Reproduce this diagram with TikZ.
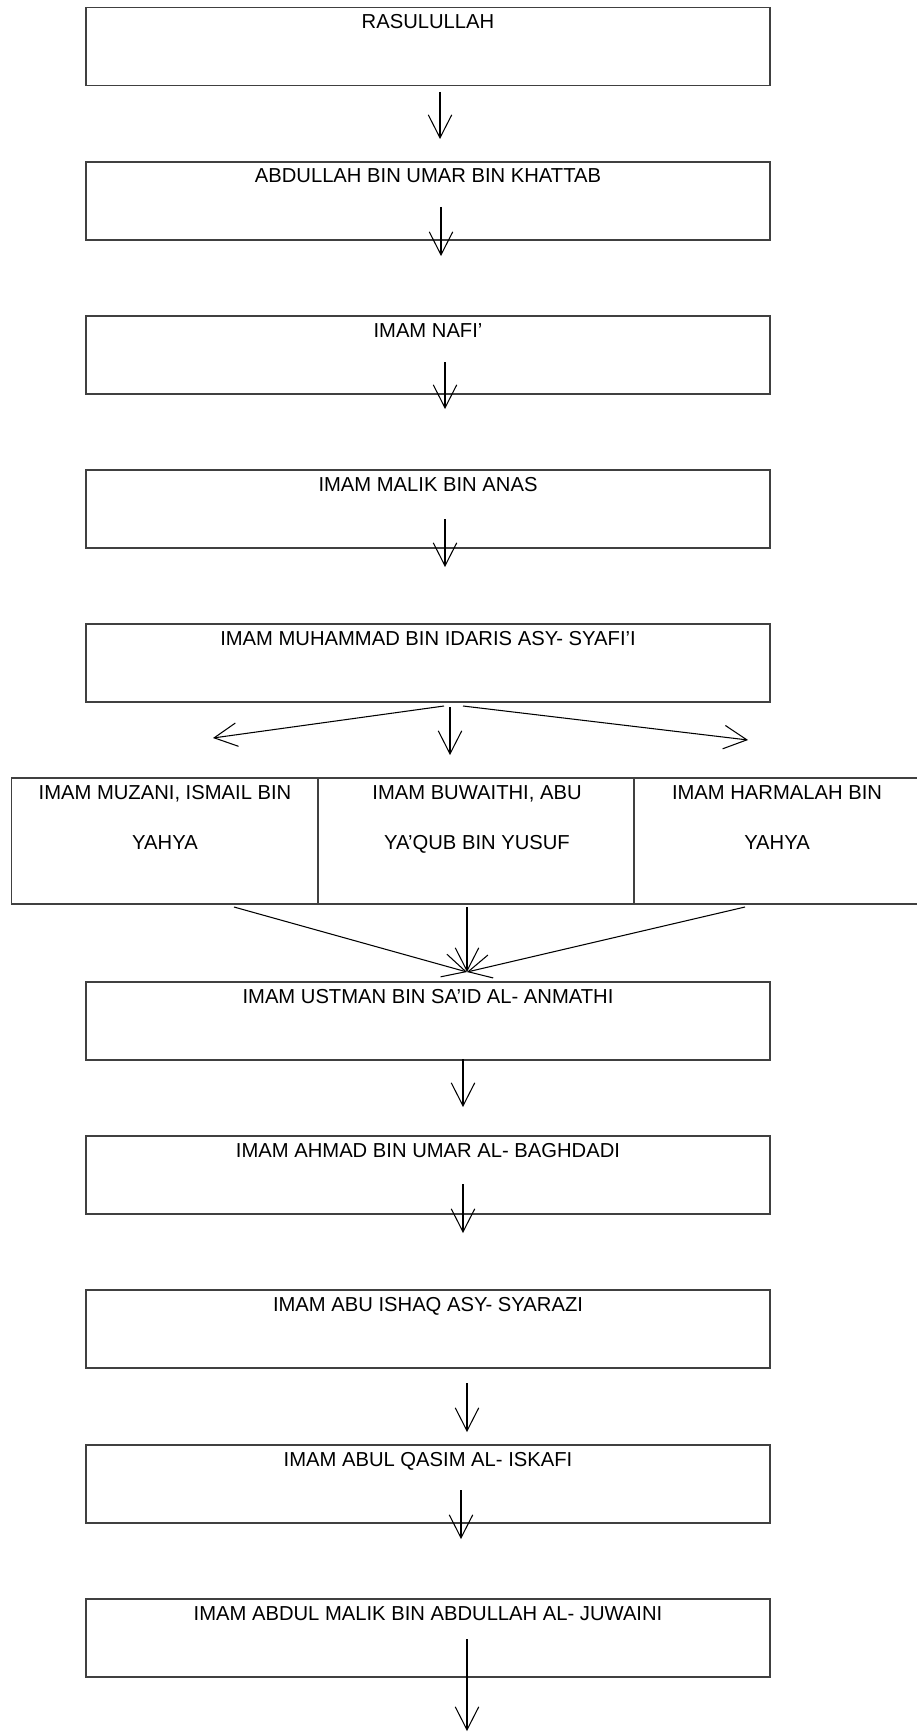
\documentclass[tikz,border=0pt]{standalone}
\usepackage{fontspec}
\setmainfont{Liberation Sans}
\usetikzlibrary{arrows.meta}

\begin{document}
\begin{tikzpicture}[x=0.2mm,y=-0.2mm,
    box/.style={draw=black!75,line width=0.9pt,minimum width=136.8mm,minimum height=15.6mm,inner sep=0pt},
    cell/.style={draw=black!75,line width=0.9pt,minimum height=25.2mm,inner sep=0pt},
    txt/.style={anchor=base,inner sep=0pt,font=\fontsize{11.5pt}{13.8pt}\selectfont},
    arr/.style={line width=0.6pt,-{Straight Barb[length=4.6mm,width=4.7mm]}}]

      \useasboundingbox (0,0) rectangle (916,1733);

      \node[box] (b1) at (428,46.3){};
      \node[box] (b2) at (428,201){};
      \node[box] (b3) at (428,355){};
      \node[box] (b4) at (428,509){};
      \node[box] (b5) at (428,663){};

      \node[cell,minimum width=61.26mm] (c1) at (164.85,841){};
      \node[cell,minimum width=63.2mm] (c2) at (476,841){};
      \node[cell,minimum width=57.2mm] (c3) at (777,841){};

      \node[box] (b6) at (428,1021){};
      \node[box] (b7) at (428,1175){};
      \node[box] (b8) at (428,1329){};
      \node[box] (b9) at (428,1484){};
      \node[box] (b10) at (428,1638){};

      \node[txt] (t1) at (428,28.3){RASULULLAH};
      \node[txt] (t2) at (428,183){ABDULLAH BIN UMAR BIN KHATTAB};
      \node[txt] (t3) at (428,337){IMAM NAFI’};
      \node[txt] (t4) at (428,491){IMAM MALIK BIN ANAS};
      \node[txt] (t5) at (428,645){IMAM MUHAMMAD BIN IDARIS ASY- SYAFI’I};
      \node[txt] (u1) at (165,799){IMAM MUZANI, ISMAIL BIN};
      \node[txt] (v1) at (165,849){YAHYA};
      \node[txt] (u2) at (477,799){IMAM BUWAITHI, ABU};
      \node[txt] (v2) at (477,849){YA’QUB BIN YUSUF};
      \node[txt] (u3) at (777,799){IMAM HARMALAH BIN};
      \node[txt] (v3) at (777,849){YAHYA};
      \node[txt] (t6) at (428,1003){IMAM USTMAN BIN SA’ID AL- ANMATHI};
      \node[txt] (t7) at (428,1157){IMAM AHMAD BIN UMAR AL- BAGHDADI};
      \node[txt] (t8) at (428,1311){IMAM ABU ISHAQ ASY- SYARAZI};
      \node[txt] (t9) at (428,1466){IMAM ABUL QASIM AL- ISKAFI};
      \node[txt] (t10) at (428,1620){IMAM ABDUL MALIK BIN ABDULLAH AL- JUWAINI};

      \coordinate (p1) at (440,92);
      \coordinate (q1) at (440,139);
      \coordinate (p2) at (441,207);
      \coordinate (q2) at (441,256);
      \coordinate (p3) at (445,362);
      \coordinate (q3) at (445,409);
      \coordinate (p4) at (445,519);
      \coordinate (q4) at (445,567);
      \coordinate (l5) at (444,706);
      \coordinate (m5) at (450,707);
      \coordinate (r5) at (463,706);
      \coordinate (lc) at (213,738);
      \coordinate (mc) at (450,755);
      \coordinate (rc) at (748,740);
      \coordinate (e1) at (234,907);
      \coordinate (e2) at (467,907);
      \coordinate (e3) at (745,907);
      \coordinate (f) at (467,972);
      \coordinate (p6) at (463,1059);
      \coordinate (q6) at (463,1107);
      \coordinate (p7) at (463,1184);
      \coordinate (q7) at (463,1233);
      \coordinate (p8) at (467,1383);
      \coordinate (q8) at (467,1432);
      \coordinate (p9) at (461,1490);
      \coordinate (q9) at (461,1539);
      \coordinate (p10) at (467,1639);
      \coordinate (q10) at (467,1731);

      \draw[arr] (p1) -- (q1);
      \draw[arr] (p2) -- (q2);
      \draw[arr] (p3) -- (q3);
      \draw[arr] (p4) -- (q4);
      \draw[arr] (l5) -- (lc);
      \draw[arr] (m5) -- (mc);
      \draw[arr] (r5) -- (rc);
      \draw[arr] (e1) -- (f);
      \draw[arr] (e2) -- (f);
      \draw[arr] (e3) -- (f);
      \draw[arr] (p6) -- (q6);
      \draw[arr] (p7) -- (q7);
      \draw[arr] (p8) -- (q8);
      \draw[arr] (p9) -- (q9);
      \draw[arr] (p10) -- (q10);
    \end{tikzpicture}
\end{document}
